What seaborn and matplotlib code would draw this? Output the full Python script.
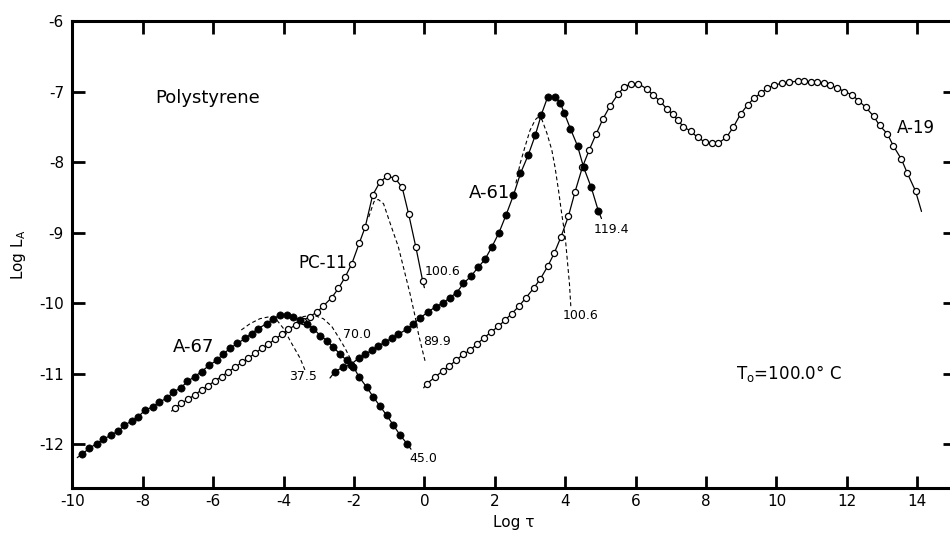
import matplotlib
matplotlib.use("Agg")
import matplotlib.pyplot as plt
import seaborn as sns
import pandas as pd

# ---------------- data ----------------
# A-67 (filled circles)
a67_x = [-9.86, -9.73, -9.52, -9.31, -9.12, -8.90, -8.69, -8.52, -8.31, -8.13, -7.94, -7.72,
         -7.53, -7.32, -7.13, -6.92, -6.73, -6.52, -6.33, -6.11, -5.90, -5.71, -5.52, -5.31,
         -5.09, -4.91, -4.72, -4.48, -4.29, -4.10, -3.91, -3.72, -3.53, -3.34, -3.15, -2.96,
         -2.77, -2.59, -2.40, -2.21, -2.02, -1.86, -1.64, -1.45, -1.26, -1.07, -0.88, -0.69,
         -0.48, -0.38]
a67_y = [-12.19, -12.14, -12.06, -11.99, -11.93, -11.87, -11.81, -11.73, -11.67, -11.61, -11.52, -11.47,
         -11.40, -11.35, -11.26, -11.20, -11.11, -11.04, -10.97, -10.88, -10.81, -10.72, -10.64, -10.57,
         -10.50, -10.43, -10.36, -10.29, -10.22, -10.17, -10.17, -10.20, -10.24, -10.29, -10.36, -10.46,
         -10.53, -10.62, -10.72, -10.81, -10.90, -11.04, -11.19, -11.33, -11.46, -11.59, -11.73, -11.87,
         -12.00, -12.07]

# PC-11 (open circles)
pc11_x = [-7.18, -7.08, -6.90, -6.71, -6.52, -6.33, -6.14, -5.95, -5.76, -5.57, -5.38, -5.19,
          -5.00, -4.81, -4.62, -4.43, -4.24, -4.05, -3.86, -3.66, -3.46, -3.26, -3.06, -2.87,
          -2.63, -2.44, -2.25, -2.06, -1.85, -1.68, -1.47, -1.26, -1.05, -0.83, -0.63, -0.45,
          -0.24, -0.05, 0.00]
pc11_y = [-11.53, -11.48, -11.42, -11.36, -11.30, -11.23, -11.17, -11.10, -11.04, -10.97, -10.91, -10.84,
          -10.78, -10.71, -10.64, -10.58, -10.51, -10.44, -10.37, -10.31, -10.25, -10.19, -10.13, -10.04,
          -9.92, -9.79, -9.63, -9.44, -9.15, -8.92, -8.47, -8.28, -8.20, -8.23, -8.36, -8.73,
          -9.21, -9.68, -9.78]

# A-61 (filled circles)
a61_x = [-2.68, -2.54, -2.32, -2.09, -1.87, -1.68, -1.49, -1.31, -1.12, -0.93, -0.74, -0.50,
         -0.31, -0.12, 0.11, 0.33, 0.52, 0.73, 0.92, 1.11, 1.32, 1.53, 1.72, 1.92, 2.12, 2.32,
         2.53, 2.73, 2.95, 3.15, 3.32, 3.50, 3.72, 3.86, 3.97, 4.15, 4.35, 4.52, 4.74, 4.94, 5.03]
a61_y = [-11.06, -10.97, -10.91, -10.87, -10.78, -10.72, -10.67, -10.61, -10.55, -10.50, -10.44, -10.37,
         -10.29, -10.21, -10.12, -10.05, -10.00, -9.92, -9.85, -9.72, -9.62, -9.49, -9.38, -9.20, -9.00, -8.75,
         -8.47, -8.16, -7.90, -7.62, -7.33, -7.08, -7.08, -7.16, -7.30, -7.53, -7.77, -8.07, -8.36, -8.69, -8.80]

# A-19 (open circles)
a19_x = [-0.02, 0.07, 0.30, 0.52, 0.71, 0.90, 1.11, 1.30, 1.49, 1.70, 1.89, 2.10, 2.29, 2.48, 2.69,
         2.89, 3.10, 3.29, 3.50, 3.69, 3.88, 4.09, 4.28, 4.49, 4.68, 4.88, 5.07, 5.28, 5.51, 5.67,
         5.86, 6.08, 6.31, 6.50, 6.68, 6.90, 7.05, 7.19, 7.36, 7.56, 7.76, 7.98, 8.18, 8.35, 8.58,
         8.78, 8.98, 9.18, 9.37, 9.57, 9.74, 9.94, 10.17, 10.37, 10.60, 10.77, 10.97, 11.16, 11.34,
         11.53, 11.73, 11.93, 12.16, 12.33, 12.53, 12.76, 12.93, 13.15, 13.32, 13.55, 13.72, 13.95,
         14.12]
a19_y = [-11.20, -11.14, -11.05, -10.96, -10.89, -10.81, -10.72, -10.67, -10.58, -10.49, -10.41, -10.33,
         -10.24, -10.15, -10.04, -9.92, -9.79, -9.66, -9.48, -9.29, -9.06, -8.77, -8.42, -8.07, -7.83,
         -7.60, -7.39, -7.20, -7.03, -6.94, -6.89, -6.89, -6.96, -7.05, -7.13, -7.25, -7.32, -7.40,
         -7.50, -7.56, -7.65, -7.72, -7.73, -7.73, -7.65, -7.50, -7.32, -7.19, -7.09, -7.02, -6.95,
         -6.91, -6.88, -6.87, -6.85, -6.85, -6.87, -6.87, -6.88, -6.91, -6.95, -7.00, -7.05, -7.13,
         -7.22, -7.35, -7.48, -7.60, -7.77, -7.96, -8.16, -8.41, -8.70]

# dashed reduced curves
d375_x = [-5.20, -4.95, -4.67, -4.38, -4.19, -4.00, -3.77, -3.53, -3.39]
d375_y = [-10.38, -10.29, -10.22, -10.19, -10.24, -10.36, -10.57, -10.78, -10.95]
d700_x = [-3.62, -3.44, -3.15, -2.87, -2.63, -2.44, -2.25, -2.06, -1.90]
d700_y = [-10.25, -10.19, -10.17, -10.22, -10.33, -10.48, -10.64, -10.83, -10.97]
d899_x = [-1.58, -1.50, -1.43, -1.31, -1.16, -0.97, -0.74, -0.55, -0.41, -0.28, -0.17, -0.05, 0.02]
d899_y = [-8.78, -8.66, -8.56, -8.53, -8.59, -8.87, -9.20, -9.58, -9.86, -10.15, -10.43, -10.68, -10.82]
d1006_x = [2.60, 2.72, 2.86, 3.00, 3.15, 3.21, 3.34, 3.48, 3.62, 3.71, 3.81, 3.90, 4.00, 4.06, 4.12, 4.16]
d1006_y = [-8.30, -8.02, -7.78, -7.55, -7.40, -7.37, -7.40, -7.59, -7.83, -8.07, -8.40, -8.73, -9.06, -9.39, -9.72, -10.05]

# annotations: (text, x, y, size)
curve_labels = [("A-67", -7.13, -10.62, 13), ("PC-11", -3.58, -9.43, 12),
                ("A-61", 1.27, -8.44, 13), ("A-19", 13.43, -7.52, 12)]
temp_labels = [("37.5", -3.84, -11.04), ("70.0", -2.32, -10.44), ("45.0", -0.43, -12.20),
               ("89.9", -0.03, -10.55), ("100.6", 0.02, -9.55), ("100.6", 3.92, -10.17),
               ("119.4", 4.80, -8.95)]
x_ticks = [-10, -8, -6, -4, -2, 0, 2, 4, 6, 8, 10, 12, 14]
y_ticks = [-12, -11, -10, -9, -8, -7, -6]

# ---------------- plotting ----------------
sns.set_theme(style="ticks")
plt.rcParams["font.family"] = ["DejaVu Sans"]
plt.rcParams["axes.unicode_minus"] = False
plt.rcParams["text.color"] = "black"
plt.rcParams["axes.labelcolor"] = "black"
plt.rcParams["xtick.color"] = "black"
plt.rcParams["ytick.color"] = "black"

fig = plt.figure(figsize=(9.5, 5.39), dpi=100)
W, H = 950, 539
ax = fig.add_axes([72.3 / W, (H - 488) / H, 883 / W, 467 / H])

lw = 0.9
def solid(xs, ys, filled):
    df = pd.DataFrame({"x": xs, "y": ys})
    if filled:
        mk = dict(marker="o", markersize=5.2, markerfacecolor="black",
                  markeredgecolor="black", markeredgewidth=0.5)
    else:
        mk = dict(marker="o", markersize=4.4, markerfacecolor="white",
                  markeredgecolor="black", markeredgewidth=0.9)
    sns.lineplot(data=df, x="x", y="y", ax=ax, sort=False, estimator=None,
                 color="black", linewidth=lw, markevery=slice(1, len(xs) - 1), **mk)

def dashed(xs, ys):
    df = pd.DataFrame({"x": xs, "y": ys})
    sns.lineplot(data=df, x="x", y="y", ax=ax, sort=False, estimator=None,
                 color="black", linewidth=0.8, linestyle=(0, (3.5, 2.5)))

for xs, ys in [(d375_x, d375_y), (d700_x, d700_y), (d899_x, d899_y), (d1006_x, d1006_y)]:
    dashed(xs, ys)
solid(pc11_x, pc11_y, False)
solid(a19_x, a19_y, False)
solid(a67_x, a67_y, True)
solid(a61_x, a61_y, True)

ax.set_xlim(-10, 15.08)
ax.set_ylim(-12.62, -6)
ax.set_xticks(x_ticks)
ax.set_yticks(y_ticks)
ax.set_xticklabels([str(v) for v in x_ticks])
ax.set_yticklabels([str(v) for v in y_ticks])
ax.tick_params(axis="both", direction="in", length=9, width=2.0, labelsize=11,
               top=True, right=True, color="black", labelcolor="black")
ax.tick_params(axis="y", pad=6)
ax.tick_params(axis="x", pad=4)
for s in ax.spines.values():
    s.set_linewidth(2.2)
    s.set_color("black")
    s.set_visible(True)

ax.set_xlabel("Log τ", fontsize=11, labelpad=5, color="black")
ax.set_ylabel(r"Log L$_\mathregular{A}$", fontsize=11, labelpad=8, color="black")

ax.text(-7.64, -7.09, "Polystyrene", fontsize=13, ha="left", va="center", color="black")
for t, x, y, s in curve_labels:
    ax.text(x, y, t, fontsize=s, ha="left", va="center", color="black")
for t, x, y in temp_labels:
    ax.text(x, y, t, fontsize=9, ha="left", va="center", color="black")
ax.text(8.84, -11.0, r"T$_\mathregular{o}$=100.0° C", fontsize=12, ha="left", va="center",
        color="black")

fig.savefig("out.png", dpi=100)
